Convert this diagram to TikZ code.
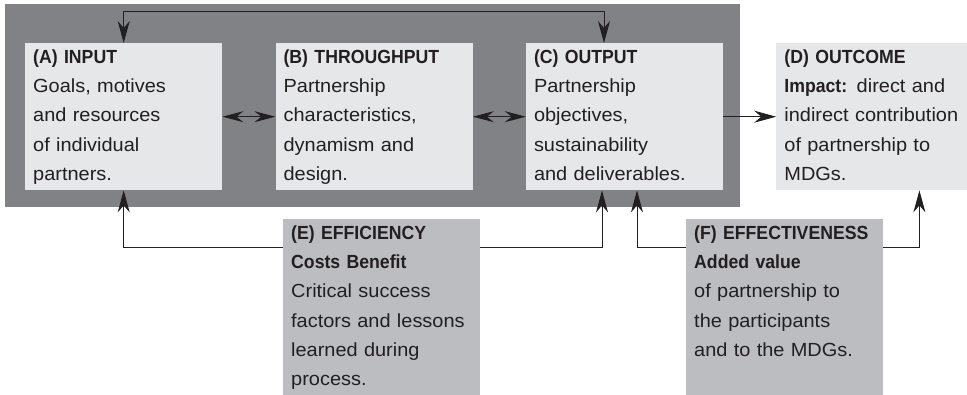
\documentclass[tikz,border=0pt]{standalone}
\usepackage{fontspec}
\setmainfont{Liberation Sans}[UprightFeatures={FakeStretch=1.05},BoldFeatures={FakeStretch=0.93}]
\usepackage{xcolor}
\usetikzlibrary{arrows.meta, positioning, calc}
\definecolor{panelgray}{HTML}{818286}
\definecolor{boxlight}{HTML}{E6E7E8}
\definecolor{boxmid}{HTML}{BCBDC0}
\definecolor{inkdark}{HTML}{231F20}

\begin{document}
\begin{tikzpicture}[
    x=1pt, y=-1pt,
    font=\fontsize{19}{29.3}\selectfont,
    stage/.style={anchor=north west, fill=boxlight, text=inkdark, align=left, text width=181pt,
        inner xsep=8pt, inner ysep=6pt, text height=14pt, text depth=121pt},
    review/.style={stage, fill=boxmid, text depth=150pt},
    link/.style={draw=inkdark, line width=1pt},
    fwd/.style={link, -{Stealth[length=22pt,width=12pt,inset=7pt]}},
    both/.style={link, {Stealth[length=21pt,width=11pt,inset=7pt]}-{Stealth[length=21pt,width=11pt,inset=7pt]}}
]
    \useasboundingbox (0,0) rectangle (967,395);
    \fill[panelgray] (5,4) rectangle (740,207);

    % Nodes
    \node[stage] (inp) at (25,43) {\textbf{(A) INPUT}\\Goals, motives\\and resources\\of individual\\partners.};
    \node[stage, right=53pt of inp] (thru) {\textbf{(B) THROUGHPUT}\\Partnership\\characteristics,\\dynamism and\\design.};
    \node[stage, right=53pt of thru] (outp) {\textbf{(C) OUTPUT}\\Partnership\\objectives,\\sustainability\\and deliverables.};
    \node[stage, right=53pt of outp, text width=176pt] (outc) {\textbf{(D) OUTCOME}\\\textbf{Impact:} direct and\\indirect contribution\\of partnership to\\MDGs.};
    \node[review] (effi) at (283,219) {\textbf{(E) EFFICIENCY}\\\textbf{Costs Benefit}\\Critical success\\factors and lessons\\learned during\\process.};
    \node[review] (effe) at (686,219) {\textbf{(F) EFFECTIVENESS}\\\textbf{Added value}\\of partnership to\\the participants\\and to the MDGs.};
    \coordinate (topline) at (0,12);

    % Connections
    \draw[link, {Stealth[length=22pt,width=12pt,inset=7pt]}-{Stealth[length=22pt,width=12pt,inset=7pt]}] (inp.north) -- (inp.north |- topline) -| ([xshift=-20.5pt]outp.north);
    \draw[both] (inp) -- (thru);
    \draw[both] (thru) -- (outp);
    \draw[fwd] (outp) -- (outc);
    \draw[fwd] ([yshift=-29pt]effi.north west) -| (inp.south);
    \draw[fwd] ([yshift=-29pt]effi.north east) -| ([xshift=-22.5pt]outp.south);
    \draw[fwd] ([yshift=-29pt]effe.north west) -| ([xshift=12.5pt]outp.south);
    \draw[fwd] ([yshift=-29pt]effe.north east) -| ([xshift=47pt]outc.south);
\end{tikzpicture}
\end{document}
